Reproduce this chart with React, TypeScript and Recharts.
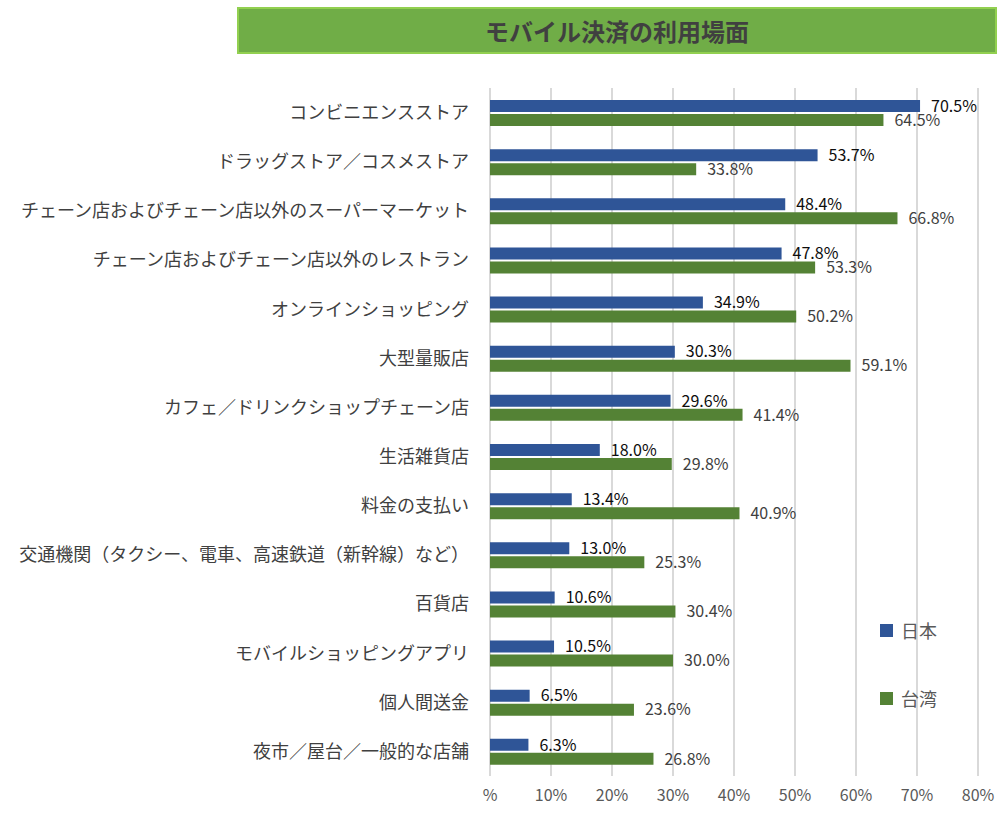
import React from 'react';
import { BarChart, Bar, XAxis, YAxis, CartesianGrid, LabelList } from 'recharts';

const categories = [
  'コンビニエンスストア',
  'ドラッグストア／コスメストア',
  'チェーン店およびチェーン店以外のスーパーマーケット',
  'チェーン店およびチェーン店以外のレストラン',
  'オンラインショッピング',
  '大型量販店',
  'カフェ／ドリンクショップチェーン店',
  '生活雑貨店',
  '料金の支払い',
  '交通機関（タクシー、電車、高速鉄道（新幹線）など）',
  '百貨店',
  'モバイルショッピングアプリ',
  '個人間送金',
  '夜市／屋台／一般的な店舗',
];
const japan = [70.5, 53.7, 48.4, 47.8, 34.9, 30.3, 29.6, 18.0, 13.4, 13.0, 10.6, 10.5, 6.5, 6.3];
const taiwan = [64.5, 33.8, 66.8, 53.3, 50.2, 59.1, 41.4, 29.8, 40.9, 25.3, 30.4, 30.0, 23.6, 26.8];
const xTicks = [0, 10, 20, 30, 40, 50, 60, 70, 80];
const seriesNames = ['日本', '台湾'];
const title = 'モバイル決済の利用場面';

const data = categories.map((name, i) => ({ name, japan: japan[i], taiwan: taiwan[i] }));

const FONT = '"Noto Sans CJK JP", "Noto Sans", sans-serif';
const BLUE = '#2F5597';
const GREEN = '#548235';

const fmt = (v: any) => `${Number(v).toFixed(1)}%`;

export default function App() {
  return (
    <div style={{ position: 'absolute', left: 0, top: 0, width: 1004, height: 820, background: '#fff', fontFamily: FONT }}>
      <div
        style={{
          position: 'absolute', left: 237, top: 7, width: 756, height: 43,
          background: '#70AD47', border: '2px solid #92D050',
          display: 'flex', alignItems: 'center', justifyContent: 'center',
          fontSize: 24, fontWeight: 700, color: '#404040', fontFamily: FONT,
        }}
      >
        {title}
      </div>
      <div style={{ position: 'absolute', left: 0, top: 0 }}>
        <BarChart
          width={1004}
          height={820}
          data={data}
          layout="vertical"
          margin={{ top: 88, right: 26, bottom: 13, left: 0 }}
          barSize={12}
          barGap={2}
        >
          <CartesianGrid horizontal={false} vertical stroke="#D9D9D9" strokeWidth={2} />
          <XAxis
            type="number"
            domain={[0, 80]}
            ticks={xTicks}
            tickFormatter={(v: number) => (v === 0 ? '%' : `${v}%`)}
            axisLine={false}
            tickLine={false}
            height={31}
            tickSize={0}
            tickMargin={14}
            tick={{ fill: '#595959', fontSize: 16, fontFamily: FONT }}
            interval={0}
          />
          <YAxis
            type="category"
            dataKey="name"
            width={490}
            axisLine={false}
            tickLine={false}
            tickSize={0}
            tickMargin={21}
            interval={0}
            tick={{ fill: '#404040', fontSize: 18, fontFamily: FONT }}
          />
          <Bar dataKey="japan" name={seriesNames[0]} fill={BLUE} isAnimationActive={false}>
            <LabelList dataKey="japan" position="right" offset={11} formatter={fmt} fill="#0D0D0D" fontSize={16} fontFamily={FONT} />
          </Bar>
          <Bar dataKey="taiwan" name={seriesNames[1]} fill={GREEN} isAnimationActive={false}>
            <LabelList dataKey="taiwan" position="right" offset={11} formatter={fmt} fill="#404040" fontSize={16} fontFamily={FONT} />
          </Bar>
        </BarChart>
      </div>
      {seriesNames.map((n, i) => (
        <div
          key={n}
          style={{ position: 'absolute', left: 880, top: 618 + i * 68, display: 'flex', alignItems: 'center', height: 24 }}
        >
          <div style={{ width: 13, height: 13, background: i === 0 ? BLUE : GREEN, marginRight: 8 }} />
          <span style={{ fontSize: 18, color: '#595959' }}>{n}</span>
        </div>
      ))}
    </div>
  );
}
